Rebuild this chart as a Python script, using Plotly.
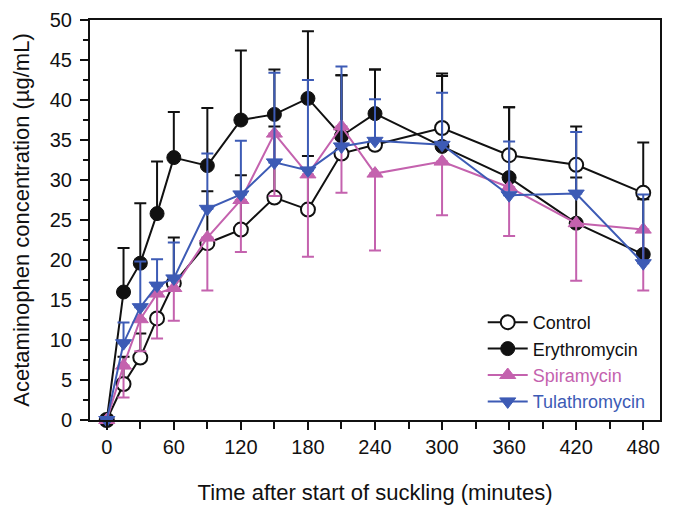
import plotly.graph_objects as go

time_min = [0, 15, 30, 45, 60, 90, 120, 150, 180, 210, 240, 300, 360, 420, 480]

control = [0, 4.5, 7.8, 12.7, 17.1, 22.1, 23.8, 27.8, 26.3, 33.3, 34.4, 36.5, 33.1, 31.9, 28.4]
control_up = [0, 3.4, 3.0, 2.8, 5.7, 6.5, 6.8, 8.9, 6.7, 9.8, 9.4, 6.8, 6.0, 4.8, 6.3]

erythro = [0, 16.0, 19.6, 25.8, 32.8, 31.8, 37.5, 38.2, 40.2, 35.5, 38.3, 34.2, 30.3, 24.6, 20.7]
erythro_up = [0, 5.5, 7.5, 6.5, 5.7, 7.2, 8.7, 5.6, 8.4, 7.6, 5.5, 8.8, 8.8, 5.7, 6.9]

spira = [0, 6.8, 12.6, 15.8, 16.5, 22.8, 27.5, 35.8, 30.7, 36.7, 30.8, 32.3, 29.1, 24.6, 23.8]
spira_down = [0, 4.0, 4.0, 5.6, 4.1, 6.6, 6.5, 7.8, 10.3, 8.3, 9.6, 6.7, 6.1, 7.2, 7.6]

tula = [0, 9.6, 14.1, 16.8, 17.7, 26.4, 28.2, 32.2, 31.2, 34.2, 34.9, 34.4, 28.1, 28.3, 19.6]
tula_up = [0, 2.6, 5.7, 3.3, 4.5, 6.9, 6.7, 11.2, 11.3, 10.0, 5.2, 6.5, 6.7, 7.7, 8.6]

x_ticks = [0, 60, 120, 180, 240, 300, 360, 420, 480]

BLACK = "#111111"
PINK = "#C462AE"
BLUE = "#3D5BB5"

fig = go.Figure()

def add(y, up, down, color, symbol, fill, label):
    fig.add_trace(go.Scatter(
        x=time_min, y=y, name=label, mode="lines+markers",
        line=dict(color=color, width=2),
        marker=dict(symbol=symbol, size=14, color=fill,
                    line=dict(color=color, width=2 if fill == "white" else 1)),
        error_y=dict(type="data", symmetric=False, array=up, arrayminus=down,
                     color=color, thickness=2, width=6),
        cliponaxis=False,
    ))

zeros = [0] * len(time_min)
add(control, control_up, zeros, BLACK, "circle", "white", "Control")
add(erythro, erythro_up, zeros, BLACK, "circle", BLACK, "Erythromycin")
add(spira, zeros, spira_down, PINK, "triangle-up", PINK,
    f'<span style="color:{PINK}">Spiramycin</span>')
add(tula, tula_up, zeros, BLUE, "triangle-down", BLUE,
    f'<span style="color:{BLUE}">Tulathromycin</span>')

font = "Liberation Sans, Arial, sans-serif"

# the page body adds an 8px offset, so the figure is a little smaller
fig.update_layout(
    width=666, height=508,
    margin=dict(l=82, r=14, t=12, b=96),
    plot_bgcolor="white", paper_bgcolor="white",
    font=dict(family=font, size=18, color="#111111"),
    showlegend=True,
    legend=dict(x=0.689, y=0.29, xanchor="left", yanchor="top",
                bgcolor="rgba(0,0,0,0)",
                itemwidth=40, tracegroupgap=0),
)

fig.update_xaxes(
    range=[-15, 495], tickmode="array", tickvals=x_ticks,
    ticktext=[str(v) for v in x_ticks], automargin=False,
    showgrid=False, zeroline=False,
    showline=True, linecolor="#111111", linewidth=2, mirror=True,
    ticks="outside", ticklen=8, tickwidth=2, tickcolor="#111111",
    tickfont=dict(size=20),
    minor=dict(dtick=30, tick0=0, ticks="outside", ticklen=7, tickwidth=2, tickcolor="#111111", showgrid=False),
    title=dict(text="Time after start of suckling (minutes)", standoff=28),
)
fig.update_yaxes(
    range=[0, 50], dtick=5, tick0=0, automargin=False,
    showgrid=False, zeroline=False, ticklabelstandoff=4,
    showline=True, linecolor="#111111", linewidth=2, mirror=True,
    ticks="outside", ticklen=8, tickwidth=2, tickcolor="#111111",
    tickfont=dict(size=20),
    minor=dict(dtick=2.5, tick0=0, ticks="outside", ticklen=5, tickwidth=2, tickcolor="#111111", showgrid=False),
    title=dict(text="Acetaminophen concentration (µg/mL)", standoff=14),
)

fig.write_html("out.html")
